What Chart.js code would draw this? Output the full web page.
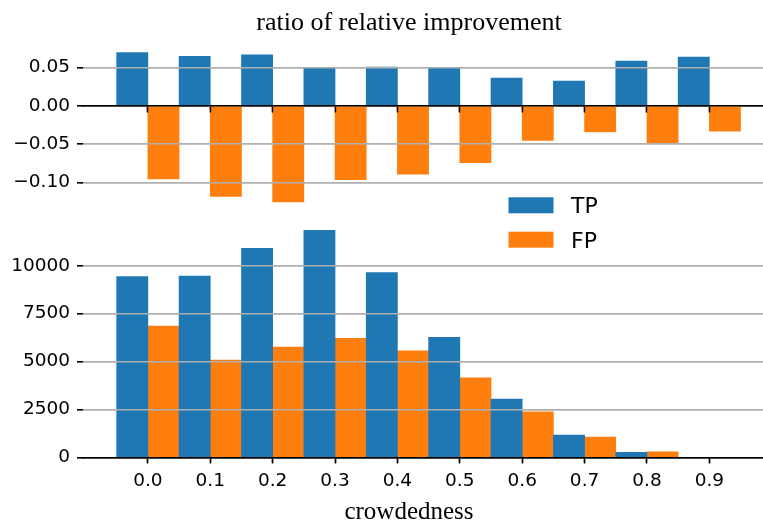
<!DOCTYPE html>
<html>
<head>
<meta charset="utf-8">
<script src="https://cdn.jsdelivr.net/npm/chart.js@4/dist/chart.umd.min.js"></script>
<style>
  html, body { margin: 0; padding: 0; background: #fff; overflow: hidden; }
  #wrap { position: relative; width: 763px; height: 522px; }
  #wrap canvas { position: absolute; left: 0; top: 0; }
</style>
</head>
<body>
<div id="wrap">
  <canvas id="countChart" width="763" height="522"></canvas>
  <canvas id="ratioChart" width="763" height="522"></canvas>
</div>
<script>
// data
const crowdedness = [0.0, 0.1, 0.2, 0.3, 0.4, 0.5, 0.6, 0.7, 0.8, 0.9]
const ratioTP = [0.069, 0.064, 0.066, 0.049, 0.050, 0.049, 0.036, 0.032, 0.058, 0.063]
const ratioFP = [-0.095, -0.118, -0.125, -0.096, -0.089, -0.074, -0.045, -0.034, -0.049, -0.033]
const countTP = [9430, 9460, 10910, 11850, 9640, 6260, 3040, 1160, 260, 0]
const countFP = [6850, 5080, 5760, 6210, 5560, 4150, 2380, 1060, 280, 0]
const ratioTicks = [-0.10, -0.05, 0.00, 0.05]
const countTicks = [0, 2500, 5000, 7500, 10000]
const seriesNames = ['TP', 'FP']

const blue = '#1f77b4'
const orange = '#ff7f0e'
const gridGray = '#b0b0b0'
const tickFont = { family: 'DejaVu Sans', size: 18.5 }

// matplotlib draws the grid above the bars, chart.js below: draw it again
const gridOnTop = {
  id: 'gridOnTop',
  afterDatasetsDraw(chart) {
    Object.values(chart.scales).forEach(s => s.drawGrid(chart.chartArea))
    Object.values(chart.scales).forEach(s => s.drawBorder())
  }
}

function serifText(id, text, size, x, y) {
  return {
    id: id,
    afterDraw(chart) {
      const ctx = chart.ctx
      ctx.save()
      ctx.font = size + 'px "Liberation Serif"'
      ctx.fillStyle = '#000'
      ctx.textAlign = 'center'
      ctx.textBaseline = 'alphabetic'
      ctx.fillText(text, x, y)
      ctx.restore()
    }
  }
}

const legendBoxes = {
  id: 'legendBoxes',
  afterDraw(chart) {
    const ctx = chart.ctx
    ctx.save()
    ctx.font = '22px "DejaVu Sans"'
    ctx.textBaseline = 'alphabetic'
    chart.data.datasets.forEach((ds, i) => {
      const y = 197.3 + i * 34.4
      ctx.fillStyle = ds.backgroundColor
      ctx.fillRect(508.5, y, 45, 16)
      ctx.fillStyle = '#000'
      ctx.fillText(ds.label, 571, y + 16)
    })
    ctx.restore()
  }
}

function xScale(showLabels, pos) {
  return {
    type: 'linear',
    position: pos,
    min: -0.104,
    max: 0.986,
    offset: false,
    afterBuildTicks: s => { s.ticks = crowdedness.map(v => ({ value: v })) },
    afterFit: s => { if (showLabels) s.height = 64.7 },
    ticks: {
      display: showLabels,
      font: tickFont,
      color: '#000',
      padding: 7,
      maxRotation: 0,
      autoSkip: false,
      callback: v => v.toFixed(1)
    },
    grid: {
      offset: false,
      drawOnChartArea: false,
      drawTicks: true,
      tickLength: 6,
      tickColor: '#000',
      tickWidth: 1.4
    },
    border: { display: true, color: '#000', width: 1.4 }
  }
}

function yScale(min, max, tickValues, fmt) {
  return {
    min: min,
    max: max,
    afterBuildTicks: s => { s.ticks = tickValues.map(v => ({ value: v })) },
    afterFit: s => { s.width = 83 },
    ticks: { font: tickFont, color: '#000', padding: 7, callback: fmt },
    grid: {
      color: gridGray,
      lineWidth: 1.4,
      drawTicks: true,
      tickLength: 6,
      tickColor: '#000',
      tickWidth: 1.4
    },
    border: { display: false }
  }
}

const common = {
  responsive: false,
  animation: false,
  plugins: { legend: { display: false }, tooltip: { enabled: false } }
}

// top: ratio of relative improvement
new Chart(document.getElementById('ratioChart'), {
  type: 'bar',
  data: {
    labels: crowdedness,
    datasets: [
      { label: seriesNames[0], data: ratioTP, backgroundColor: blue, categoryPercentage: 1, barPercentage: 1 },
      { label: seriesNames[1], data: ratioFP, backgroundColor: orange, categoryPercentage: 1, barPercentage: 1 }
    ]
  },
  options: Object.assign({}, common, {
    layout: { padding: { top: 44.8, bottom: 522 - 209.4, left: 0, right: 0 } },
    scales: {
      x: xScale(false, { y: 0 }),
      y: yScale(-0.1347, 0.0791, ratioTicks,
        v => (v < 0 ? '\u2212' : '') + Math.abs(v).toFixed(2))
    }
  }),
  plugins: [gridOnTop, serifText('title', 'ratio of relative improvement', 26, 409, 30)]
})

// bottom: counts per crowdedness bin
new Chart(document.getElementById('countChart'), {
  type: 'bar',
  data: {
    labels: crowdedness,
    datasets: [
      { label: seriesNames[0], data: countTP, backgroundColor: blue, categoryPercentage: 1, barPercentage: 1 },
      { label: seriesNames[1], data: countFP, backgroundColor: orange, categoryPercentage: 1, barPercentage: 1 }
    ]
  },
  options: Object.assign({}, common, {
    layout: { padding: { top: 219, bottom: 0, left: 0, right: 0 } },
    scales: {
      x: xScale(true, 'bottom'),
      y: yScale(0, 12440, countTicks, v => String(v))
    }
  }),
  plugins: [gridOnTop, legendBoxes, serifText('xlabel', 'crowdedness', 25, 409, 519)]
})
</script>
</body>
</html>
